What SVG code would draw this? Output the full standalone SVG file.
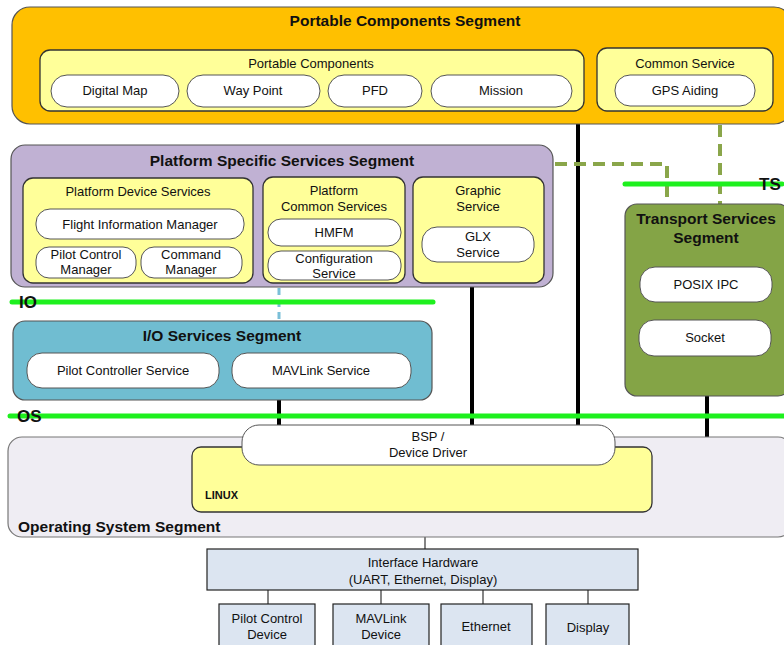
<svg xmlns="http://www.w3.org/2000/svg" width="784" height="645" viewBox="0 0 784 645">
<style>
text{font-family:"Liberation Sans",Arial,sans-serif;fill:#111;text-anchor:middle;}
.t{font-size:13px;}
.b{font-size:15.5px;font-weight:bold;}
.seg{stroke:#555;stroke-width:1.2;}
.box{fill:#FFFF99;stroke:#333;stroke-width:1.3;}
.pill{fill:#fff;stroke:#555;stroke-width:1;}
.hw{fill:#DCE5F1;stroke:#222;stroke-width:1.2;}
.bus{stroke:#1EF01E;stroke-width:5;stroke-linecap:round;}
.blk{stroke:#000;stroke-width:4;fill:none;}
.dash{stroke:#8AA64A;stroke-width:4;stroke-dasharray:12 7;fill:none;}
.thin{stroke:#333;stroke-width:1.2;fill:none;}
.lbl{font-size:17px;font-weight:bold;text-anchor:start;}
</style>

<g id="connectors">
<line class="blk" x1="578" y1="120" x2="578" y2="428"/>
<line class="blk" x1="472" y1="285" x2="472" y2="428"/>
<line class="blk" x1="279" y1="398" x2="279" y2="428"/>
<line class="blk" x1="707" y1="394" x2="707" y2="439"/>
<path class="dash" d="M555,164 H667 V204"/>
<line class="dash" x1="720" y1="125" x2="720" y2="204"/>
<line stroke="#7BBFD8" stroke-width="3" stroke-dasharray="7 5" x1="279" y1="288" x2="279" y2="321"/>
<line class="thin" x1="425" y1="537" x2="425" y2="549"/>
<line class="thin" x1="268" y1="590" x2="268" y2="604"/>
<line class="thin" x1="381" y1="590" x2="381" y2="604"/>
<line class="thin" x1="483" y1="590" x2="483" y2="604"/>
<line class="thin" x1="588" y1="590" x2="588" y2="604"/>
</g>

<g id="portable-segment">
<rect class="seg" x="12" y="7" width="780" height="117" rx="18" fill="#FFC000"/>
<text class="b" x="405" y="26">Portable Components Segment</text>
</g>
<g id="portable-components">
<rect class="box" x="40" y="50" width="544" height="61" rx="10"/>
<text class="t" x="311" y="68">Portable Components</text>
</g>
<g id="digital-map"><rect class="pill" x="51" y="75" width="128" height="32" rx="16"/><text class="t" x="115" y="95">Digital Map</text></g>
<g id="way-point"><rect class="pill" x="187" y="75" width="133" height="32" rx="16"/><text class="t" x="253" y="95">Way Point</text></g>
<g id="pfd"><rect class="pill" x="328" y="75" width="94" height="32" rx="16"/><text class="t" x="375" y="95">PFD</text></g>
<g id="mission"><rect class="pill" x="431" y="75" width="141" height="32" rx="16"/><text class="t" x="501" y="95">Mission</text></g>
<g id="common-service">
<rect class="box" x="597" y="48" width="176" height="63" rx="10"/>
<text class="t" x="685" y="68">Common Service</text>
</g>
<g id="gps-aiding"><rect class="pill" x="615" y="75" width="140" height="31" rx="15"/><text class="t" x="685" y="95">GPS Aiding</text></g>

<g id="platform-segment">
<rect class="seg" x="11" y="145" width="542" height="142" rx="14" fill="#C0B1D3"/>
<text class="b" x="282" y="166">Platform Specific Services Segment</text>
</g>
<g id="platform-device-services">
<rect class="box" x="23" y="178" width="230" height="105" rx="10"/>
<text class="t" x="138" y="196">Platform Device Services</text>
</g>
<g id="flight-information-manager"><rect class="pill" x="36" y="209" width="208" height="30" rx="14"/><text class="t" x="140" y="229">Flight Information Manager</text></g>
<g id="pilot-control-manager"><rect class="pill" x="36" y="247" width="100" height="31" rx="13"/><text class="t" x="86" y="259">Pilot Control</text><text class="t" x="86" y="274">Manager</text></g>
<g id="command-manager"><rect class="pill" x="141" y="247" width="101" height="31" rx="13"/><text class="t" x="191" y="259">Command</text><text class="t" x="191" y="274">Manager</text></g>
<g id="platform-common-services">
<rect class="box" x="263" y="177" width="142" height="106" rx="10"/>
<text class="t" x="334" y="195">Platform</text>
<text class="t" x="334" y="211">Common Services</text>
</g>
<g id="hmfm"><rect class="pill" x="268" y="219" width="133" height="27" rx="13"/><text class="t" x="334" y="237">HMFM</text></g>
<g id="configuration-service"><rect class="pill" x="268" y="251" width="133" height="29" rx="13"/><text class="t" x="334" y="263">Configuration</text><text class="t" x="334" y="278">Service</text></g>
<g id="graphic-service">
<rect class="box" x="413" y="177" width="131" height="106" rx="10"/>
<text class="t" x="478" y="195">Graphic</text>
<text class="t" x="478" y="211">Service</text>
</g>
<g id="glx-service"><rect class="pill" x="422" y="227" width="112" height="35" rx="15"/><text class="t" x="478" y="241">GLX</text><text class="t" x="478" y="257">Service</text></g>

<g id="ts-bus">
<line class="bus" x1="625" y1="184" x2="782" y2="184"/>
<text class="lbl" x="759" y="190">TS</text>
</g>
<g id="transport-segment">
<rect class="seg" x="625" y="204" width="165" height="192" rx="12" fill="#84A446"/>
<text class="b" x="706" y="224">Transport Services</text>
<text class="b" x="706" y="243">Segment</text>
</g>
<g id="posix-ipc"><rect class="pill" x="640" y="267" width="132" height="35" rx="15"/><text class="t" x="706" y="289">POSIX IPC</text></g>
<g id="socket"><rect class="pill" x="639" y="320" width="132" height="36" rx="15"/><text class="t" x="705" y="342">Socket</text></g>

<g id="io-bus">
<line class="bus" x1="12" y1="302" x2="433" y2="302"/>
<text class="lbl" x="19" y="308">IO</text>
</g>
<g id="io-segment">
<rect class="seg" x="13" y="321" width="419" height="79" rx="12" fill="#70BDD1"/>
<text class="b" x="222" y="341">I/O Services Segment</text>
</g>
<g id="pilot-controller-service"><rect class="pill" x="27" y="353" width="192" height="35" rx="15"/><text class="t" x="123" y="375">Pilot Controller Service</text></g>
<g id="mavlink-service"><rect class="pill" x="232" y="353" width="179" height="35" rx="15"/><text class="t" x="321" y="375">MAVLink Service</text></g>

<g id="os-bus">
<line class="bus" x1="10" y1="416" x2="784" y2="416"/>
<text class="lbl" x="17" y="422">OS</text>
</g>
<g id="os-segment">
<rect x="8" y="437" width="784" height="100" rx="14" fill="#EFEDF3" stroke="#777" stroke-width="1.2"/>
<text class="b" x="18" y="532" style="text-anchor:start">Operating System Segment</text>
</g>
<g id="linux">
<rect class="box" x="192" y="447" width="460" height="65" rx="9"/>
<text x="205" y="499" style="text-anchor:start;font-size:11px;font-weight:bold">LINUX</text>
</g>
<g id="bsp">
<rect class="pill" x="242" y="425" width="373" height="40" rx="17" stroke="#777"/>
<text class="t" x="428" y="441">BSP /</text>
<text class="t" x="428" y="457">Device Driver</text>
</g>

<g id="interface-hardware">
<rect class="hw" x="207" y="549" width="431" height="41"/>
<text class="t" x="423" y="567">Interface Hardware</text>
<text class="t" x="423" y="584">(UART, Ethernet, Display)</text>
</g>
<g id="pilot-control-device"><rect class="hw" x="219" y="604" width="96" height="50"/><text class="t" x="267" y="623">Pilot Control</text><text class="t" x="267" y="639">Device</text></g>
<g id="mavlink-device"><rect class="hw" x="333" y="604" width="96" height="50"/><text class="t" x="381" y="623">MAVLink</text><text class="t" x="381" y="639">Device</text></g>
<g id="ethernet"><rect class="hw" x="441" y="604" width="91" height="50"/><text class="t" x="486" y="631">Ethernet</text></g>
<g id="display"><rect class="hw" x="546" y="604" width="83" height="50"/><text class="t" x="588" y="632">Display</text></g>
</svg>
